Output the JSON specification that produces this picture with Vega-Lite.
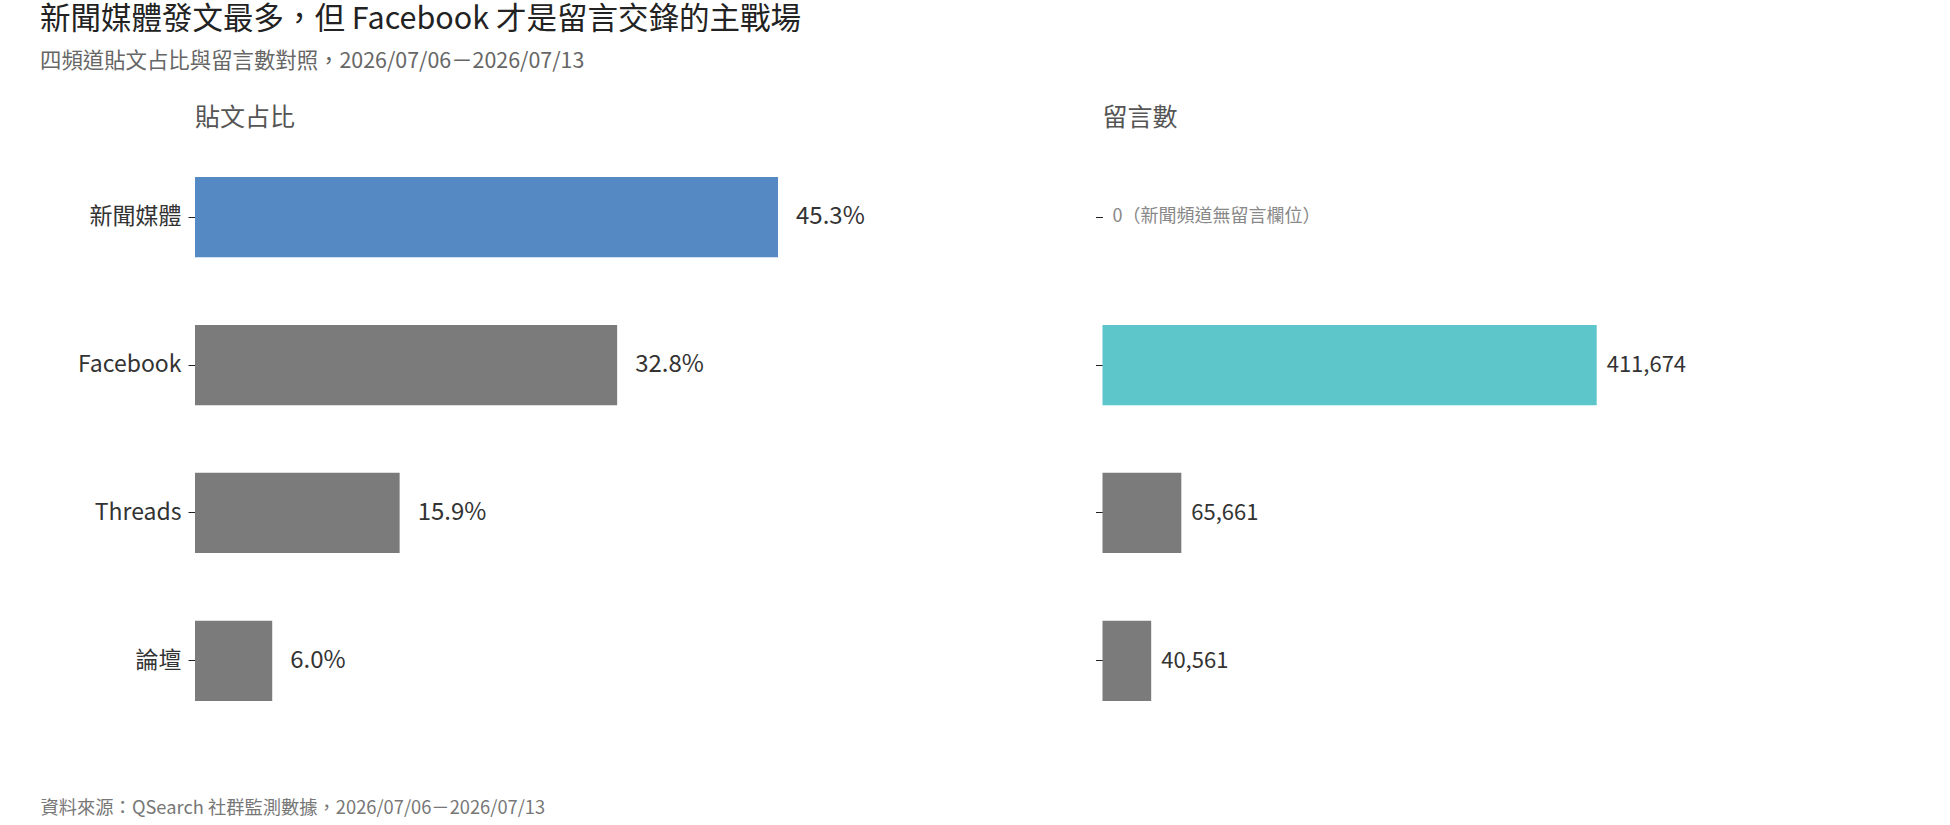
{
  "$schema": "https://vega.github.io/schema/vega-lite/v6.json",
  "background": "white",
  "padding": {"left": 40, "top": 5, "right": 5, "bottom": 5},
  "config": {
    "font": "Noto Sans CJK TC",
    "view": {"stroke": null},
    "axis": {"grid": false}
  },
  "title": {
    "text": "新聞媒體發文最多，但 Facebook 才是留言交鋒的主戰場",
    "subtitle": "四頻道貼文占比與留言數對照，2026/07/06－2026/07/13",
    "anchor": "start",
    "frame": "bounds",
    "fontSize": 30.5,
    "fontWeight": "normal",
    "color": "#222222",
    "subtitleFontSize": 21.4,
    "subtitleColor": "#666666",
    "subtitlePadding": 15.5,
    "offset": 33
  },
  "data": {
    "values": [
      {"channel": "新聞媒體", "share": 0.453, "comments": 0},
      {"channel": "Facebook", "share": 0.328, "comments": 411674},
      {"channel": "Threads", "share": 0.159, "comments": 65661},
      {"channel": "論壇", "share": 0.06, "comments": 40561}
    ]
  },
  "spacing": 192.5,
  "resolve": {"scale": {"color": "independent"}},
  "hconcat": [
    {
      "width": 695,
      "height": 598,
      "title": {"text": "貼文占比", "anchor": "start", "frame": "group", "fontSize": 25, "fontWeight": "normal", "color": "#555555", "offset": 9.5},
      "encoding": {
        "y": {
          "field": "channel", "type": "nominal", "sort": null,
          "scale": {"paddingInner": 0.457, "paddingOuter": 0.25},
          "axis": {"title": null, "domain": false, "ticks": true, "tickSize": 7, "tickColor": "#222222", "labelFontSize": 23, "labelColor": "#333333", "labelPadding": 7, "minExtent": 155}
        },
        "x": {
          "field": "share", "type": "quantitative",
          "scale": {"domain": [0, 0.54], "nice": false},
          "axis": {
            "title": "資料來源：QSearch 社群監測數據，2026/07/06－2026/07/13",
            "labels": false, "ticks": false, "domain": false,
            "titleFontSize": 18.3, "titleColor": "#777777", "titleFontWeight": "normal",
            "titleX": -155, "titleY": 70, "titleAlign": "left", "titleAnchor": "start", "titleBaseline": "middle"
          }
        }
      },
      "layer": [
        {
          "mark": {"type": "bar"},
          "encoding": {
            "color": {
              "field": "channel", "type": "nominal", "legend": null,
              "scale": {"domain": ["新聞媒體", "Facebook", "Threads", "論壇"], "range": ["#5589c4", "#7b7b7b", "#7b7b7b", "#7b7b7b"]}
            }
          }
        },
        {
          "mark": {"type": "text", "align": "left", "baseline": "middle", "dx": 18, "fontSize": 24, "color": "#333333"},
          "encoding": {"text": {"field": "share", "type": "quantitative", "format": ".1%"}}
        }
      ]
    },
    {
      "width": 539,
      "height": 598,
      "title": {"text": "留言數", "anchor": "start", "frame": "group", "fontSize": 25, "fontWeight": "normal", "color": "#555555", "offset": 9.5},
      "encoding": {
        "y": {
          "field": "channel", "type": "nominal", "sort": null,
          "scale": {"paddingInner": 0.457, "paddingOuter": 0.25},
          "axis": {"title": null, "domain": false, "ticks": true, "tickSize": 7, "tickColor": "#222222", "labels": false, "minExtent": 20}
        },
        "x": {
          "field": "comments", "type": "quantitative",
          "scale": {"domain": [0, 449000], "nice": false},
          "axis": null
        }
      },
      "layer": [
        {
          "mark": {"type": "bar"},
          "encoding": {
            "color": {
              "field": "channel", "type": "nominal", "legend": null,
              "scale": {"domain": ["新聞媒體", "Facebook", "Threads", "論壇"], "range": ["#7b7b7b", "#5cc6ca", "#7b7b7b", "#7b7b7b"]}
            }
          }
        },
        {
          "mark": {"type": "text", "align": "left", "baseline": "middle"},
          "encoding": {
            "text": {"condition": {"test": "datum.comments === 0", "value": "0（新聞頻道無留言欄位）"}, "field": "comments", "type": "quantitative", "format": ","},
            "size": {"condition": {"test": "datum.comments === 0", "value": 18}, "value": 22},
            "color": {"condition": {"test": "datum.comments === 0", "value": "#888888"}, "value": "#333333"},
            "xOffset": {"condition": {"test": "datum.comments === 0", "value": 15}, "value": 10}
          }
        }
      ]
    }
  ]
}
